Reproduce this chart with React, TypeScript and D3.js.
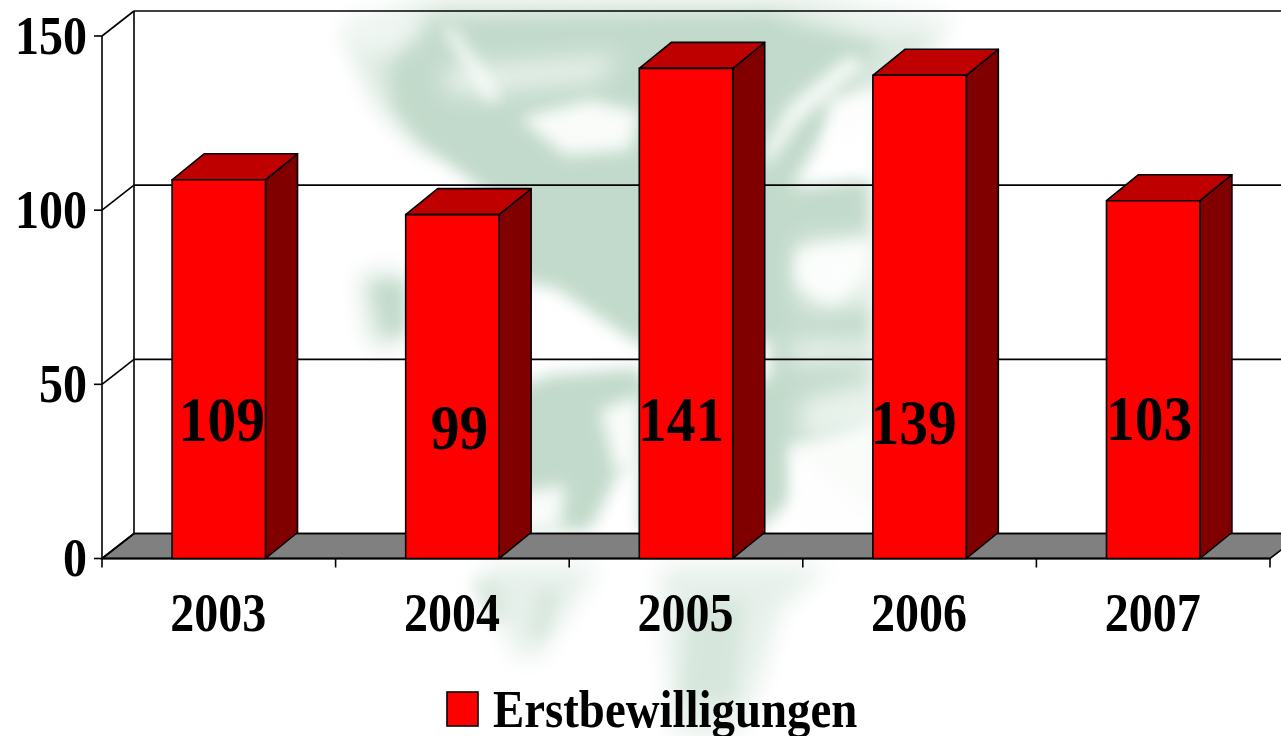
import React from "react";
import * as d3 from "d3";

const years = ["2003", "2004", "2005", "2006", "2007"];
const erstbewilligungen = [109, 99, 141, 139, 103];
const yTicks = [0, 50, 100, 150];
const labelNudgeX = [3, 7, -5, -6, -4];
const labelNudgeY = [-118, -110, -118, -115, -119];
const seriesName = "Erstbewilligungen";

const W = 1281, H = 736;
const FONT = "'Liberation Serif', serif";
const axisX0 = 102, axisX1 = 1270;
const depthX = 32, depthY = 25;
const SW = 1.6;

const y = d3.scaleLinear().domain([0, 150]).range([558.5, 36]);
const x = d3.scaleBand<string>().domain(years).range([axisX0, axisX1]).paddingInner(0.6).paddingOuter(0.3);
const step = x.step();
const xTicks = d3.range(years.length + 1).map((i) => axisX0 + i * step);

const GREEN = "#c2dacb";
const greenShapes = [
  "M390,60 L430,20 L770,15 L880,40 L850,90 L790,190 L640,200 L510,215 L490,195 L430,150 L395,110 Z",
  "M490,190 L770,150 L770,340 L640,345 L554,287 L530,285 L510,270 Z",
  "M770,190 L870,180 L870,510 L790,440 L770,400 Z",
  "M372,285 L405,280 L405,335 L385,335 Z",
  "M510,390 L550,375 L640,368 L640,460 L620,470 L590,530 L510,530 Z",
  "M640,380 L790,380 L790,500 L760,530 L640,530 Z",
];
const paleShapes = [
  "M345,30 L440,0 L800,0 L950,25 L880,100 L770,120 L420,150 L375,100 Z",
  "M870,190 L878,500 L860,500 Z",
  "M360,275 L400,270 L400,345 L370,345 Z",
];
const tailShapes = [
  "M480,566 L600,566 L570,610 L535,660 L515,655 Z",
  "M660,566 L830,566 L780,610 L760,680 L735,736 L675,736 L665,640 Z",
];
const streakShapes = [
  "M470,580 L500,580 L510,620 L490,620 Z",
  "M540,590 L560,590 L545,640 L530,635 Z",
  "M690,600 L745,600 L735,700 L680,700 Z",
];
const softWhite = [
  "M345,15 L420,5 L420,35 L380,60 L345,50 Z",
  "M770,10 L950,10 L950,30 L880,35 Z",
  "M440,70 L620,55 L600,80 L450,95 Z",
  "M800,240 L880,235 L880,305 L800,310 Z",
  "M790,340 L880,340 L880,360 L790,365 Z",
  "M800,400 L880,380 L880,430 L800,440 Z",
];
const whiteShapes = [
  "M520,118 L590,100 L640,112 L630,150 L565,155 Z",
  "M440,25 L455,30 L500,95 L490,105 Z",
  "M765,170 L800,120 L865,65 L850,55 L790,105 L765,150 Z",
  "M830,100 L900,85 L880,135 L825,155 Z",
  "M795,250 L870,240 L870,270 L835,305 L795,285 Z",
  "M600,410 L640,395 L640,470 L615,470 Z",
  "M510,495 L565,485 L560,530 L510,530 Z",
  "M795,445 L880,420 L880,535 L795,535 Z",
];

export default function App() {
  return (
    <svg
      width={W}
      height={H}
      viewBox={`0 0 ${W} ${H}`}
      style={{ position: "fixed", left: 0, top: 0, background: "#fff", display: "block" }}
      fontFamily={FONT}
      fontWeight="bold"
    >
      <defs>
        <filter id="b1" x="-20%" y="-20%" width="140%" height="140%">
          <feGaussianBlur stdDeviation="8" />
        </filter>
        <filter id="b2" x="-30%" y="-30%" width="160%" height="160%">
          <feGaussianBlur stdDeviation="12" />
        </filter>
      </defs>

      <g filter="url(#b2)" fill="#d8e7dd">
        {paleShapes.map((d) => <path key={d} d={d} />)}
      </g>
      <g filter="url(#b1)" fill={GREEN}>
        {greenShapes.map((d) => <path key={d} d={d} />)}
      </g>
      <g filter="url(#b2)" fill="#e6f0ea">
        {tailShapes.map((d) => <path key={d} d={d} />)}
      </g>
      <g filter="url(#b1)" fill="#d3e4d9" opacity={0.8}>
        {streakShapes.map((d) => <path key={d} d={d} />)}
      </g>
      <g filter="url(#b2)" fill="#f4f9f6" opacity={0.8}>
        {softWhite.map((d) => <path key={d} d={d} />)}
      </g>
      <g filter="url(#b1)" fill="#fdfefd" opacity={0.95}>
        {whiteShapes.map((d) => <path key={d} d={d} />)}
      </g>

      {/* floor */}
      <polygon
        points={[
          [axisX0, y(0)],
          [axisX0 + depthX, y(0) - depthY],
          [axisX1 + depthX, y(0) - depthY],
          [axisX1, y(0)],
        ].join(" ")}
        fill="#808080"
        stroke="#000"
        strokeWidth={SW}
      />

      {/* walls + gridlines */}
      <g stroke="#000" strokeWidth={SW} fill="none">
        <line x1={axisX0} x2={axisX0} y1={y(150)} y2={y(0)} />
        <line x1={axisX0 + depthX} x2={axisX0 + depthX} y1={y(150) - depthY} y2={y(0) - depthY} />
        {yTicks.map((t) => (
          <g key={t}>
            <line x1={axisX0 - 8} x2={axisX0} y1={y(t)} y2={y(t)} />
            <line x1={axisX0} x2={axisX0 + depthX} y1={y(t)} y2={y(t) - depthY} />
            <line x1={axisX0 + depthX} x2={W + 5} y1={y(t) - depthY} y2={y(t) - depthY} />
          </g>
        ))}
        <line x1={axisX0} x2={axisX1} y1={y(0)} y2={y(0)} strokeWidth={2} />
        {xTicks.map((t) => (
          <line key={t} x1={t} x2={t} y1={y(0)} y2={y(0) + 9} />
        ))}
      </g>

      {/* bars */}
      <g stroke="#000" strokeWidth={SW} strokeLinejoin="round">
        {years.map((yr, i) => {
          const v = erstbewilligungen[i];
          const x0 = x(yr)!;
          const x1 = x0 + x.bandwidth();
          const top = y(v) + 1;
          const bottom = y(0);
          const dy = depthY + 1;
          return (
            <g key={yr}>
              <polygon
                points={[[x1, top], [x1 + depthX, top - dy], [x1 + depthX, bottom - dy], [x1, bottom]].join(" ")}
                fill="#800000"
              />
              <polygon
                points={[[x0, top], [x0 + depthX, top - dy], [x1 + depthX, top - dy], [x1, top]].join(" ")}
                fill="#bf0000"
              />
              <rect x={x0} y={top} width={x1 - x0} height={bottom - top} fill="#ff0000" />
            </g>
          );
        })}
      </g>

      {/* data labels */}
      <g fontSize={57.5} textAnchor="middle" fill="#000">
        {years.map((yr, i) => (
          <text
            key={yr}
            transform={`translate(${x(yr)! + x.bandwidth() / 2 + labelNudgeX[i]},${y(0) + labelNudgeY[i]}) scale(1,1.12)`}
          >
            {erstbewilligungen[i]}
          </text>
        ))}
      </g>

      {/* y tick labels */}
      <g fontSize={48} textAnchor="end" fill="#000">
        {yTicks.map((t) => (
          <text key={t} transform={`translate(87,${y(t) + 17.5}) scale(1,1.13)`}>{t}</text>
        ))}
      </g>

      {/* x tick labels */}
      <g fontSize={48} textAnchor="middle" fill="#000">
        {years.map((yr) => (
          <text key={yr} transform={`translate(${x(yr)! + x.bandwidth() / 2 - 0.5},631) scale(1,1.13)`}>{yr}</text>
        ))}
      </g>

      {/* legend */}
      <rect x={447} y={692} width={31} height={34} fill="#ff0000" stroke="#000" strokeWidth={SW} />
      <text transform="translate(493,727) scale(0.976,1.12)" fontSize={48} fill="#000">{seriesName}</text>
    </svg>
  );
}
